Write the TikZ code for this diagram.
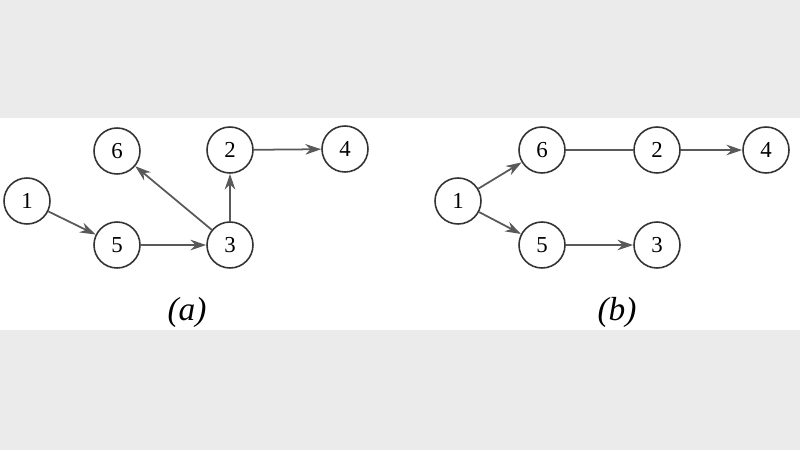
\documentclass[tikz,border=0pt]{standalone}
\usepackage{fontspec}
\setmainfont{Liberation Serif}
\usetikzlibrary{arrows.meta}
\begin{document}
\begin{tikzpicture}[x=0.02cm,y=-0.02cm,
  vtx/.style={circle,draw=black!80,line width=0.9pt,minimum size=0.92cm,inner sep=0pt,font=\fontsize{13}{13}\selectfont},
  arr/.style={draw=black!65,line width=1pt,-{Stealth[length=9pt,width=6pt]}},
  ln/.style={draw=black!65,line width=1pt},
  lab/.style={font=\itshape\fontsize{19}{19}\selectfont}]
\fill[black!8] (0,0) rectangle (800,118);
\fill[black!8] (0,330) rectangle (800,450);
\useasboundingbox (0,0) rectangle (800,450);
\node[vtx] (a1) at (27,201) {1};
\node[vtx] (a6) at (117,151) {6};
\node[vtx] (a2) at (230,150) {2};
\node[vtx] (a4) at (345,149) {4};
\node[vtx] (a5) at (117,245) {5};
\node[vtx] (a3) at (230,245) {3};
\node[lab] (la) at (187,312) {(a)};
\draw[arr] (a1) -- (a5);
\draw[arr] (a5) -- (a3);
\draw[arr] (a3) -- (a6);
\draw[arr] (a3) -- (a2);
\draw[arr] (a2) -- (a4);
\node[vtx] (b1) at (458,201) {1};
\node[vtx] (b6) at (542,150) {6};
\node[vtx] (b2) at (657,150) {2};
\node[vtx] (b4) at (766,150) {4};
\node[vtx] (b5) at (542,245) {5};
\node[vtx] (b3) at (657,245) {3};
\node[lab] (lb) at (617,312) {(b)};
\draw[arr] (b1) -- (b6);
\draw[arr] (b1) -- (b5);
\draw[ln] (b6) -- (b2);
\draw[arr] (b2) -- (b4);
\draw[arr] (b5) -- (b3);
\end{tikzpicture}
\end{document}
